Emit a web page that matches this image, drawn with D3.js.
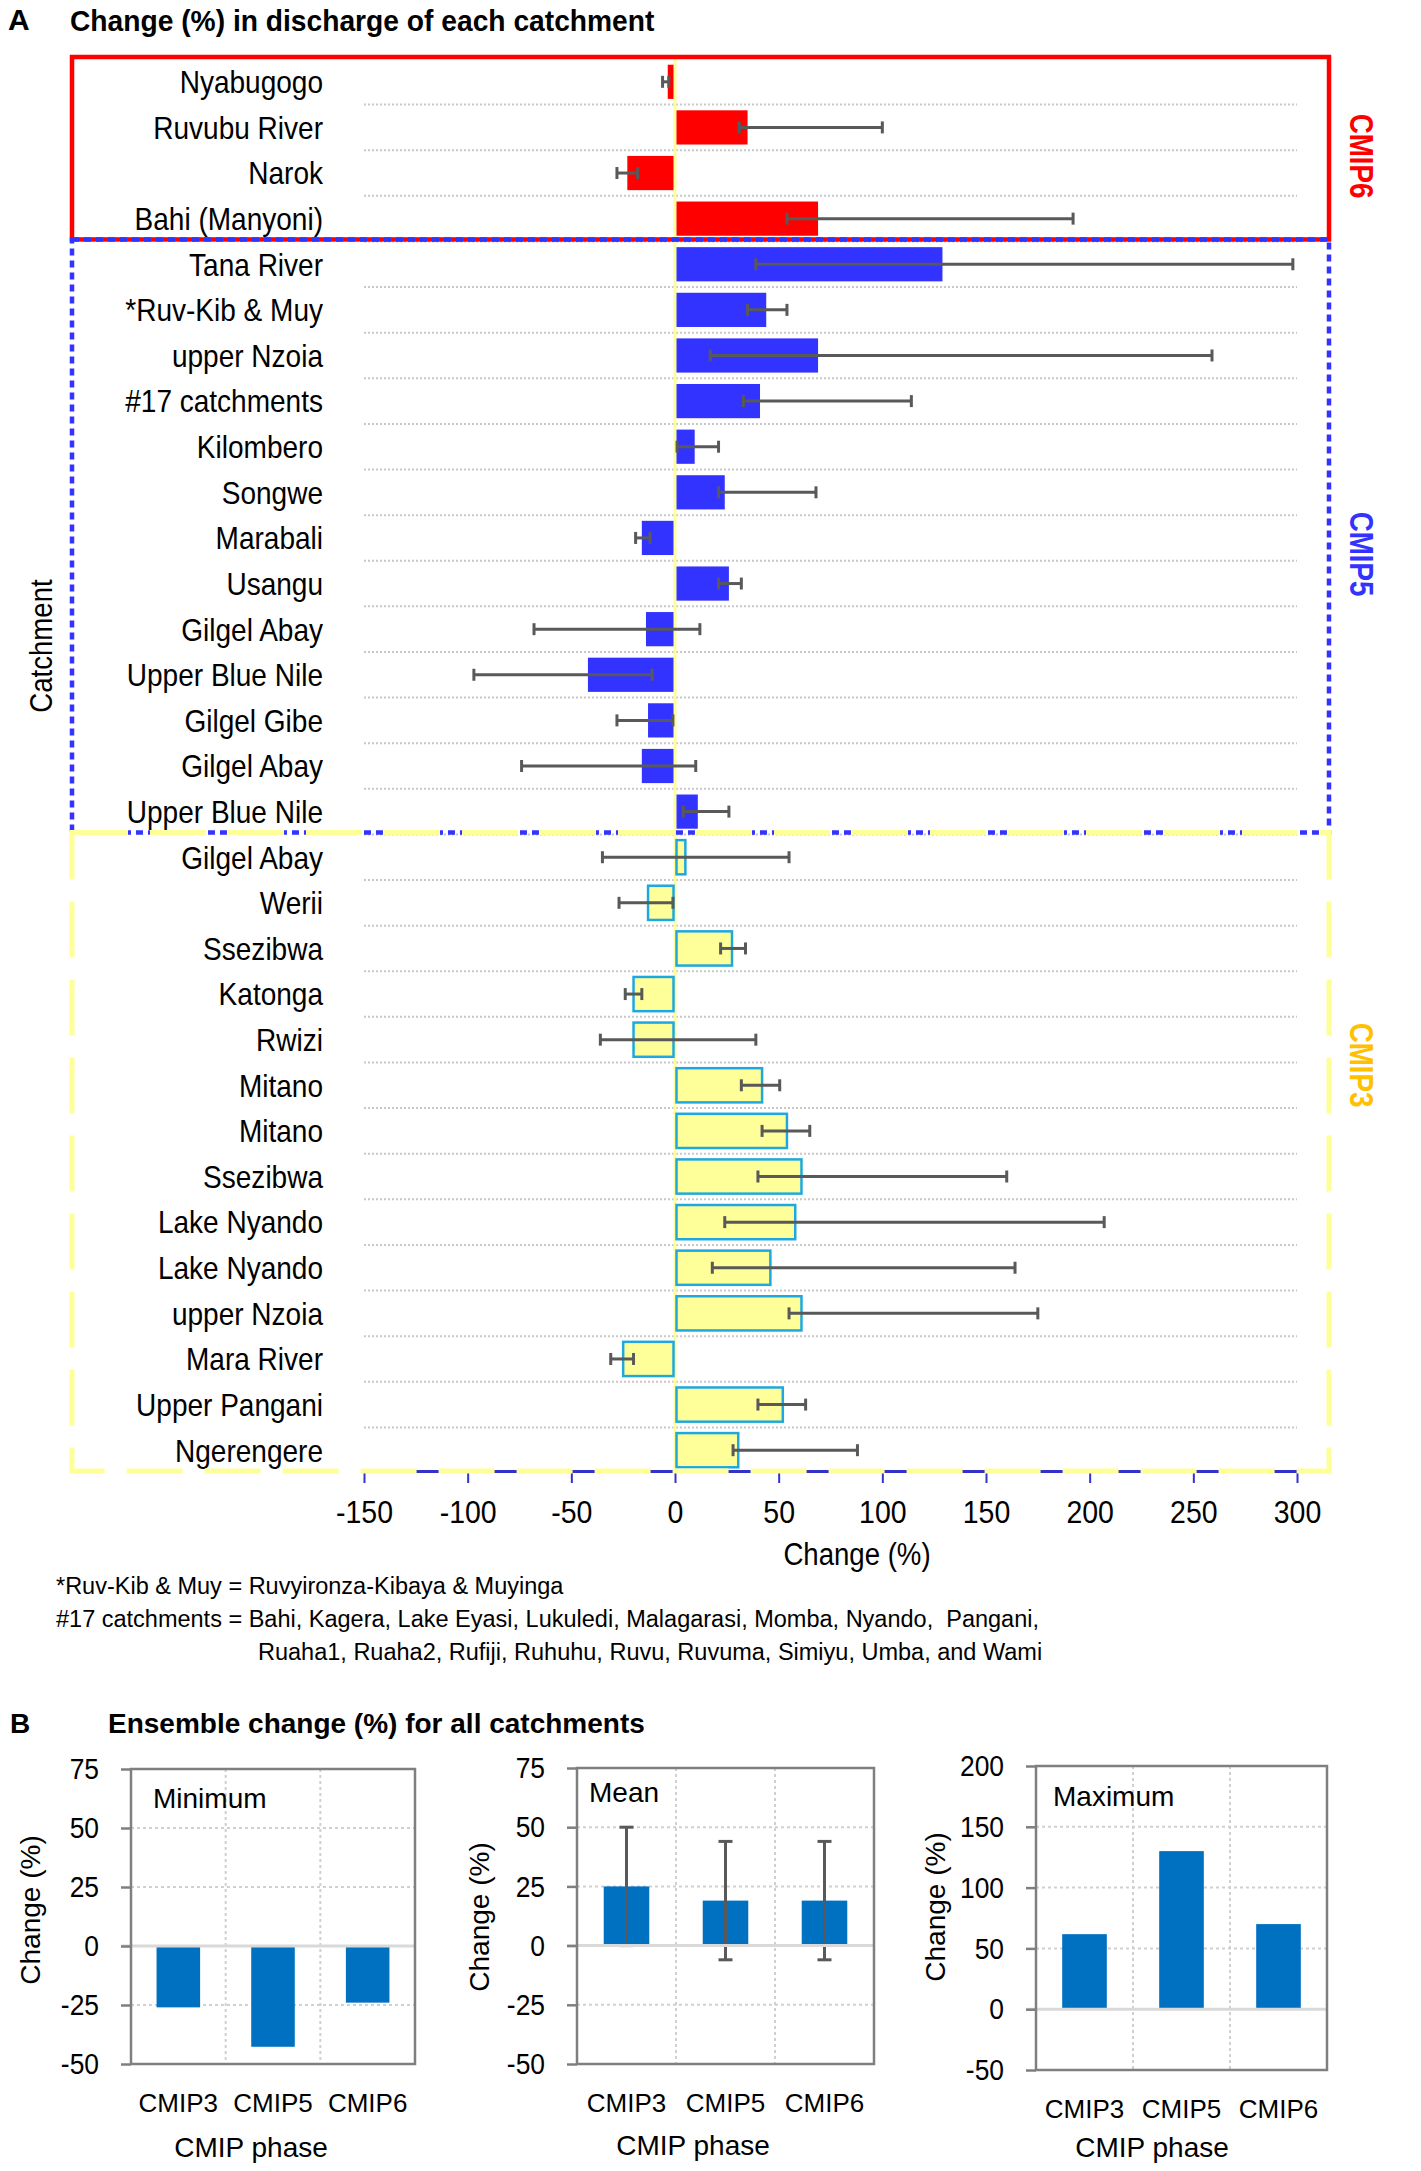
<!DOCTYPE html>
<html>
<head>
<meta charset="utf-8">
<script src="https://cdn.jsdelivr.net/npm/d3@7"></script>
<style>
body{margin:0;background:#fff;}
text{font-family:"Liberation Sans",Arial,sans-serif;}
</style>
</head>
<body>
<svg id="fig" width="1421" height="2171"></svg>
<script>
// panel A: one row per catchment study, top to bottom
const catchments=["Nyabugogo","Ruvubu River","Narok","Bahi (Manyoni)",
  "Tana River","*Ruv-Kib & Muy","upper Nzoia","#17 catchments","Kilombero","Songwe","Marabali","Usangu",
  "Gilgel Abay","Upper Blue Nile","Gilgel Gibe","Gilgel Abay","Upper Blue Nile",
  "Gilgel Abay","Werii","Ssezibwa","Katonga","Rwizi","Mitano","Mitano","Ssezibwa",
  "Lake Nyando","Lake Nyando","upper Nzoia","Mara River","Upper Pangani","Ngerengere"];
const groups=["CMIP6","CMIP5","CMIP3"];
const groupSizes=[4,13,14];
const change=[-3.5,35,-23,69,
  129,44,69,41,9.5,24,-16,26,-14,-42,-13,-16,11,
  5,-13,27.5,-20,-20,42,54,61,58,46,61,-25,52,30.5];
const errLow=[-6,31,-28,54,
  39,35,17,33,1,21,-19,21,-68,-97,-28,-74,4,
  -35,-27,22,-24,-36,32,42,40,24,18,55,-31,40,28];
const errHigh=[-3,100,-18,192,
  298,54,259,114,21,68,-12,32,12,-11,-1,10,26,
  55,-1,34,-16,39,50.5,65,160,207,164,175,-20,63,88];
const xTicks=[-150,-100,-50,0,50,100,150,200,250,300];

// panel B: ensemble change for all catchments
const phases=["CMIP3","CMIP5","CMIP6"];
const minChange=[-26,-42.7,-24];
const meanChange=[25,19,19];
const meanLow=[0,-6,-6];
const meanHigh=[50,44,44];
const maxChange=[61.7,130,70];
const minMeanTicks=[-50,-25,0,25,50,75];
const maxTicks=[-50,0,50,100,150,200];

const svg=d3.select("#fig");
const grey="#595959";
const narrow="scale(0.89,1)";

// ---------- panel A ----------
const x=d3.scaleLinear().domain([-150,300]).range([364,1297]);
const y=d3.scaleBand().domain(d3.range(catchments.length)).range([59,1473])
  .paddingInner(0.25).paddingOuter(0.125);
const edge=(k)=>y.range()[0]+k*y.step();

let rowPhase=[];
groups.forEach((g,gi)=>{for(let k=0;k<groupSizes[gi];k++) rowPhase.push(g);});

svg.append("text").attr("x",8).attr("y",30).attr("font-size",30).attr("font-weight","bold").text("A");
svg.append("text").attr("transform","translate(70,31) scale(0.94,1)").attr("font-size",30).attr("font-weight","bold")
  .text("Change (%) in discharge of each catchment");

svg.append("g").selectAll("line").data(d3.range(1,catchments.length)).join("line")
  .attr("x1",x(-150)).attr("x2",x(300))
  .attr("y1",(k)=>edge(k)).attr("y2",(k)=>edge(k))
  .attr("stroke","#c8c8c8").attr("stroke-width",2).attr("stroke-dasharray","2,2");

svg.append("line").attr("x1",x(0)).attr("x2",x(0)).attr("y1",edge(0)).attr("y2",edge(31))
  .attr("stroke","#ffff99").attr("stroke-width",3);

const fill={CMIP6:"#ff0000",CMIP5:"#3333ff",CMIP3:"#ffff99"};
svg.append("g").selectAll("rect").data(change).join("rect")
  .attr("x",(d)=>x(Math.min(0,d))+(d>0?1.5:0))
  .attr("width",(d)=>Math.abs(x(d)-x(0))-1.5)
  .attr("y",(d,i)=>y(i)).attr("height",y.bandwidth())
  .attr("fill",(d,i)=>fill[rowPhase[i]])
  .attr("stroke",(d,i)=>rowPhase[i]==="CMIP3"?"#1fa8e0":"none")
  .attr("stroke-width",2.5);

const eb=svg.append("g").attr("stroke",grey).attr("stroke-width",3);
catchments.forEach((c,i)=>{
  let cy=y(i)+y.bandwidth()/2;
  eb.append("line").attr("x1",x(errLow[i])).attr("x2",x(errHigh[i])).attr("y1",cy).attr("y2",cy);
  [errLow[i],errHigh[i]].forEach((v)=>{
    eb.append("line").attr("x1",x(v)).attr("x2",x(v)).attr("y1",cy-6).attr("y2",cy+6);
  });
});

svg.append("g").selectAll("text").data(catchments).join("text")
  .attr("transform",(d,i)=>`translate(323,${y(i)+y.bandwidth()/2}) ${narrow}`).attr("dy","0.36em")
  .attr("text-anchor","end").attr("font-size",31.5).text((d)=>d);

// group boxes
const boxL=72,boxR=1329;
svg.append("rect").attr("x",boxL).attr("y",edge(0)-2).attr("width",boxR-boxL).attr("height",edge(4)-edge(0))
  .attr("fill","none").attr("stroke","#ff0000").attr("stroke-width",4.5);
svg.append("rect").attr("x",boxL).attr("y",edge(4)-2).attr("width",boxR-boxL).attr("height",edge(17)-edge(4))
  .attr("fill","none").attr("stroke","#3333ff").attr("stroke-width",4.5).attr("stroke-dasharray","7,5");

const xAxis=d3.axisBottom(x).tickValues(xTicks).tickSize(12).tickSizeOuter(0).tickPadding(17)
  .tickFormat((d)=>String(d));
const gx=svg.append("g").attr("transform",`translate(0,${edge(31)-2})`).call(xAxis);
gx.attr("font-size",32);
gx.select(".domain").attr("stroke","#3333cc").attr("stroke-width",3);
gx.selectAll(".tick line").attr("stroke","#3333cc").attr("stroke-width",2);
gx.selectAll(".tick text").attr("fill","#000").attr("transform",narrow);

svg.append("rect").attr("x",boxL).attr("y",edge(17)-2).attr("width",boxR-boxL).attr("height",edge(31)-edge(17))
  .attr("fill","none").attr("stroke","#ffff99").attr("stroke-width",5).attr("stroke-dasharray","56,22");

const groupColor=["#ff0000","#3333ff","#ffc000"];
const groupLabelY=[156,554,1065];
groups.forEach((g,gi)=>{
  svg.append("text").attr("transform",`translate(1362,${groupLabelY[gi]}) rotate(90) scale(0.84,1)`)
    .attr("text-anchor","middle").attr("dy","0.36em").attr("font-size",33).attr("font-weight","bold")
    .attr("fill",groupColor[gi]).text(g);
});

svg.append("text").attr("transform",`translate(41,646) rotate(-90) ${narrow}`).attr("text-anchor","middle")
  .attr("dy","0.36em").attr("font-size",31).text("Catchment");
svg.append("text").attr("transform",`translate(857,1565) ${narrow}`).attr("text-anchor","middle")
  .attr("font-size",31).text("Change (%)");

const notes=[[56,1594,"*Ruv-Kib & Muy = Ruvyironza-Kibaya & Muyinga"],
  [56,1627,"#17 catchments = Bahi, Kagera, Lake Eyasi, Lukuledi, Malagarasi, Momba, Nyando,  Pangani,"],
  [258,1660,"Ruaha1, Ruaha2, Rufiji, Ruhuhu, Ruvu, Ruvuma, Simiyu, Umba, and Wami"]];
svg.append("g").selectAll("text").data(notes).join("text")
  .attr("x",(d)=>d[0]).attr("y",(d)=>d[1]).attr("font-size",23.5)
  .style("white-space","pre").text((d)=>d[2]);

// ---------- panel B ----------
svg.append("text").attr("x",10).attr("y",1733).attr("font-size",28).attr("font-weight","bold").text("B");
svg.append("text").attr("x",108).attr("y",1733).attr("font-size",28).attr("font-weight","bold")
  .text("Ensemble change (%) for all catchments");

const panels=[
  {name:"Minimum",values:minChange,domain:[-50,75],ticks:minMeanTicks,
   frame:[131,415,1769,2064],labelAt:[153,1808],yTitleAt:[30,1910],xTitleAt:[251,2157]},
  {name:"Mean",values:meanChange,low:meanLow,high:meanHigh,domain:[-50,75],ticks:minMeanTicks,
   frame:[577,874,1768,2064],labelAt:[589,1802],yTitleAt:[479,1917],xTitleAt:[693,2155]},
  {name:"Maximum",values:maxChange,domain:[-50,200],ticks:maxTicks,
   frame:[1036,1327,1766,2070],labelAt:[1053,1806],yTitleAt:[935,1907],xTitleAt:[1152,2157]}
];

const drawMini=(p)=>{
  const [x0,x1,y0,y1]=p.frame;
  const xs=d3.scaleBand().domain(phases).range([x0,x1]).paddingInner(0.54).paddingOuter(0.27);
  const ys=d3.scaleLinear().domain(p.domain).range([y1,y0]);
  const g=svg.append("g");
  g.selectAll(".hg").data(p.ticks.filter((t)=>t!==0&&t!==p.domain[0]&&t!==p.domain[1])).join("line")
    .attr("x1",x0).attr("x2",x1).attr("y1",(d)=>ys(d)).attr("y2",(d)=>ys(d))
    .attr("stroke","#d0d0d0").attr("stroke-width",2).attr("stroke-dasharray","3,3");
  g.selectAll(".vg").data(d3.range(1,phases.length)).join("line")
    .attr("x1",(k)=>x0+k*xs.step()).attr("x2",(k)=>x0+k*xs.step()).attr("y1",y0).attr("y2",y1)
    .attr("stroke","#d0d0d0").attr("stroke-width",2).attr("stroke-dasharray","3,3");
  g.selectAll(".bar").data(p.values).join("rect")
    .attr("x",(d,i)=>xs(phases[i])).attr("width",xs.bandwidth())
    .attr("y",(d)=>ys(Math.max(0,d))).attr("height",(d)=>Math.abs(ys(d)-ys(0)))
    .attr("fill","#0070c0");
  if(p.low){
    const e=g.append("g").attr("stroke",grey).attr("stroke-width",3);
    p.values.forEach((v,i)=>{
      let cx=xs(phases[i])+xs.bandwidth()/2;
      e.append("line").attr("x1",cx).attr("x2",cx).attr("y1",ys(p.low[i])).attr("y2",ys(p.high[i]));
      [p.low[i],p.high[i]].forEach((w)=>{
        e.append("line").attr("x1",cx-7).attr("x2",cx+7).attr("y1",ys(w)).attr("y2",ys(w));
      });
    });
  }
  g.append("line").attr("x1",x0-10).attr("x2",x1).attr("y1",ys(0)).attr("y2",ys(0))
    .attr("stroke","#d9d9d9").attr("stroke-width",3);
  g.append("rect").attr("x",x0).attr("y",y0).attr("width",x1-x0).attr("height",y1-y0)
    .attr("fill","none").attr("stroke","#7f7f7f").attr("stroke-width",2.5);
  const ya=g.append("g").attr("transform",`translate(${x0},0)`)
    .call(d3.axisLeft(ys).tickValues(p.ticks).tickSize(10).tickSizeOuter(0).tickPadding(22).tickFormat((d)=>String(d)));
  ya.attr("font-size",30);
  ya.select(".domain").remove();
  ya.selectAll(".tick line").attr("stroke","#7f7f7f").attr("stroke-width",2.5);
  ya.selectAll(".tick text").attr("fill","#000").attr("x",0).attr("transform","translate(-32,0) scale(0.88,1)");
  g.selectAll(".xl").data(phases).join("text")
    .attr("x",(d)=>xs(d)+xs.bandwidth()/2).attr("y",y1+48).attr("text-anchor","middle")
    .attr("font-size",26).text((d)=>d);
  g.append("text").attr("x",p.labelAt[0]).attr("y",p.labelAt[1]).attr("font-size",28).text(p.name);
  g.append("text").attr("transform",`translate(${p.yTitleAt[0]},${p.yTitleAt[1]}) rotate(-90)`)
    .attr("text-anchor","middle").attr("dy","0.36em").attr("font-size",28).text("Change (%)");
  g.append("text").attr("x",p.xTitleAt[0]).attr("y",p.xTitleAt[1]).attr("text-anchor","middle")
    .attr("font-size",28).text("CMIP phase");
};
panels.forEach(drawMini);
</script>
</body>
</html>
